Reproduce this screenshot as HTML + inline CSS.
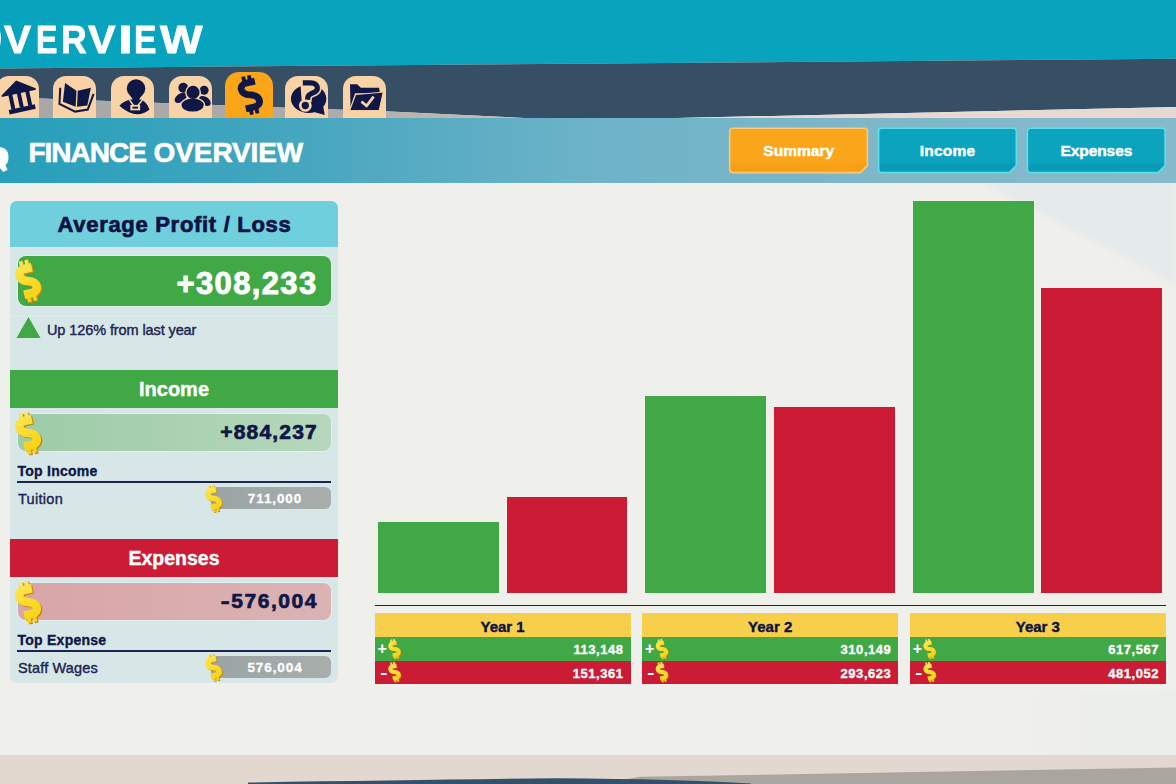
<!DOCTYPE html>
<html>
<head>
<meta charset="utf-8">
<title>Finance Overview</title>
<style>
*{box-sizing:border-box;margin:0;padding:0}
html,body{width:1176px;height:784px;overflow:hidden;background:#efefeb;}
body{position:relative;font-family:"Liberation Sans",sans-serif;color:#0f1747;}
.abs{position:absolute}
#bg{position:absolute;left:0;top:0;width:1176px;height:784px}
.t{position:absolute;white-space:nowrap;font-weight:bold;line-height:1}
/* top title */
#title{position:absolute;left:0;top:0}
.tl{position:absolute;top:21px;font-size:38px;font-weight:bold;color:#fff;line-height:1;-webkit-text-stroke:0.8px #fff;transform-origin:0 0;white-space:nowrap}
.ft{top:139.2px;font-size:28px;color:#fff;-webkit-text-stroke:0.6px #fff}
/* tabs */
.tab{position:absolute;top:76px;width:43px;height:42px;background:#f9d3a5;border-radius:13px 13px 0 0}
.tab.sel{top:72px;width:48px;height:46px;background:#fba518;border-radius:14px 14px 0 0}
/* buttons */
.btn{position:absolute;top:128.5px;height:44px;width:138px;color:#fff;font-weight:bold;font-size:15.5px;letter-spacing:0;text-align:center;line-height:43px;-webkit-text-stroke:0.45px #fff}
/* left panel */
#panel{position:absolute;left:10px;top:201px;width:328px;height:482px;background:#d7e7e7;border-radius:7px;overflow:hidden}
#phead{position:absolute;left:0;top:0;width:328px;height:46px;background:#70cfdd;text-align:center;font-weight:bold;font-size:22px;letter-spacing:0.7px;line-height:47px;color:#0c1342;padding-left:1px;-webkit-text-stroke:0.7px #0c1342}
.box{position:absolute;left:7.5px;width:313.5px;box-shadow:0 0 0 1px rgba(255,255,255,0.3);border-radius:8px;text-align:right;font-weight:bold;-webkit-text-stroke:0.5px}
.hdr{position:absolute;left:0;width:328px;height:38px;color:#fff;-webkit-text-stroke:0.4px #fff;font-weight:bold;font-size:20px;text-align:center;line-height:39px}
.lbl{position:absolute;left:7.5px;font-weight:bold;font-size:14px;letter-spacing:0.25px;line-height:1;-webkit-text-stroke:0.35px #0f1747}
.lbl2{position:absolute;left:8px;font-size:14.5px;line-height:1;color:#1c2550;-webkit-text-stroke:0.4px #1c2550}
.rule{position:absolute;left:7px;width:314px;height:1.7px;background:#1c2450}
.pill{position:absolute;left:201px;width:120px;height:22.5px;-webkit-text-stroke:0.3px #fff;border-radius:6px;background:linear-gradient(90deg,#9aa4a4,#a9aeac);color:#fff;font-weight:bold;font-size:13.5px;letter-spacing:0.9px;text-align:center;line-height:23px;padding-left:8px}
/* chart */
.bar{position:absolute}
.g{background:#40a845}
.r{background:#cb1b35}
.yr{position:absolute;top:613.3px;height:70.4px}
.yr .h{position:absolute;left:0;top:0;width:100%;height:23.6px;background:#f7cf4a;text-align:center;font-weight:bold;font-size:15px;line-height:27px;color:#0c1342;-webkit-text-stroke:0.4px #0c1342}
.yr .rg{position:absolute;left:0;top:23.6px;width:100%;height:23.8px;background:#40a845}
.yr .rr{position:absolute;left:0;top:47.4px;width:100%;height:23px;background:#cb1b35}
.yr .v{position:absolute;right:7px;top:0;color:#fff;font-weight:bold;font-size:13px;letter-spacing:0.55px;line-height:25px;-webkit-text-stroke:0.35px #fff}
.yr .s{position:absolute;left:3px;top:0;color:#fff;font-weight:bold;font-size:16px;line-height:24px}
</style>
</head>
<body>
<svg id="bg" viewBox="0 0 1176 784">
  <defs>
    <filter id="soft" x="-10%" y="-10%" width="120%" height="130%"><feGaussianBlur stdDeviation="2.5"/></filter>
    <linearGradient id="br" x1="0" x2="1" y1="0" y2="0"><stop offset="0" stop-color="#e8ede8" stop-opacity="0"/><stop offset="0.6" stop-color="#e8ede8" stop-opacity="0.5"/><stop offset="1" stop-color="#e8ede8" stop-opacity="0.6"/></linearGradient>
    <linearGradient id="gw" gradientUnits="userSpaceOnUse" x1="0" x2="535" y1="0" y2="0"><stop offset="0" stop-color="#a9a7a6"/><stop offset="0.6" stop-color="#aeaaa8"/><stop offset="1" stop-color="#cbbfb8"/></linearGradient>
    <linearGradient id="hb" x1="0" x2="1" y1="0" y2="0">
      <stop offset="0" stop-color="#269fbb"/>
      <stop offset="0.25" stop-color="#45a6bf"/>
      <stop offset="0.5" stop-color="#6db3c8"/>
      <stop offset="0.75" stop-color="#7fb7c8"/>
      <stop offset="1" stop-color="#86bacb"/>
    </linearGradient>
  </defs>
  <rect x="0" y="0" width="1176" height="784" fill="#efefeb"/>
  <!-- faint ray top right -->
  <polygon points="983,183 1176,183 1176,284" fill="#e5eaea" filter="url(#soft)"/>
  <rect x="1030" y="690" width="146" height="66" fill="url(#br)"/>
  <!-- top teal band -->
  <polygon points="0,0 1176,0 1176,58.8 0,68.4" fill="#08a4be"/>
  <!-- dark band -->
  <polygon points="0,68.4 1176,58.8 1176,107 655,118.5 535,118.5 390,111.5 0,97" fill="#374f64"/>
  <!-- grey wedge -->
  <polygon points="0,97 390,111.5 535,118.5 0,119" fill="url(#gw)"/>
  <!-- cream wedge -->
  <polygon points="655,118.5 1176,107 1176,119 655,119" fill="#e6d9d1"/>
  <!-- finance band -->
  <rect x="0" y="118" width="1176" height="65" fill="url(#hb)"/>
  <!-- buttons -->
  <path d="M732.7,128.2 L864.4000000000001,128.2 Q867.4000000000001,128.2 867.4000000000001,131.2 L867.4000000000001,165.6 L860.4000000000001,172.6 L732.7,172.6 Q729.7,172.6 729.7,169.6 L729.7,131.2 Q729.7,128.2 732.7,128.2 Z" fill="#fba61a"/><path d="M729.7,163.5 L867.4000000000001,163.5 L867.4000000000001,165.6 L860.4000000000001,172.6 L732.7,172.6 Q729.7,172.6 729.7,169.6 Z" fill="#f7a016"/><path d="M732.7,128.2 L864.4000000000001,128.2 Q867.4000000000001,128.2 867.4000000000001,131.2 L867.4000000000001,165.6 L860.4000000000001,172.6 L732.7,172.6 Q729.7,172.6 729.7,169.6 L729.7,131.2 Q729.7,128.2 732.7,128.2 Z" fill="none" stroke="#fcc878" stroke-width="1.6"/>
  <path d="M881.6,128.2 L1013.3,128.2 Q1016.3,128.2 1016.3,131.2 L1016.3,165.6 L1009.3,172.6 L881.6,172.6 Q878.6,172.6 878.6,169.6 L878.6,131.2 Q878.6,128.2 881.6,128.2 Z" fill="#0ba3be"/><path d="M878.6,163.5 L1016.3,163.5 L1016.3,165.6 L1009.3,172.6 L881.6,172.6 Q878.6,172.6 878.6,169.6 Z" fill="#0a9cb6"/><path d="M881.6,128.2 L1013.3,128.2 Q1016.3,128.2 1016.3,131.2 L1016.3,165.6 L1009.3,172.6 L881.6,172.6 Q878.6,172.6 878.6,169.6 L878.6,131.2 Q878.6,128.2 881.6,128.2 Z" fill="none" stroke="#5fdde9" stroke-width="1.6"/>
  <path d="M1030.4,128.2 L1162.1000000000001,128.2 Q1165.1000000000001,128.2 1165.1000000000001,131.2 L1165.1000000000001,165.6 L1158.1000000000001,172.6 L1030.4,172.6 Q1027.4,172.6 1027.4,169.6 L1027.4,131.2 Q1027.4,128.2 1030.4,128.2 Z" fill="#0ba3be"/><path d="M1027.4,163.5 L1165.1000000000001,163.5 L1165.1000000000001,165.6 L1158.1000000000001,172.6 L1030.4,172.6 Q1027.4,172.6 1027.4,169.6 Z" fill="#0a9cb6"/><path d="M1030.4,128.2 L1162.1000000000001,128.2 Q1165.1000000000001,128.2 1165.1000000000001,131.2 L1165.1000000000001,165.6 L1158.1000000000001,172.6 L1030.4,172.6 Q1027.4,172.6 1027.4,169.6 L1027.4,131.2 Q1027.4,128.2 1030.4,128.2 Z" fill="none" stroke="#5fdde9" stroke-width="1.6"/>
  <!-- bottom -->
  <rect x="0" y="755" width="1176" height="29" fill="#e3d8cf"/>
  <polygon points="640,776.8 1176,767.5 1176,784 600,784" fill="#aba59f"/>
  <path d="M248,784 L248,782.5 Q420,780 557,778.2 Q680,779 751,783.5 L751,784 Z" fill="#34506a"/>
</svg>

<div id="title"><span class="tl" style="left:4.1px;transform:scaleX(1.069)">V</span><span class="tl" style="left:35.71px;transform:scaleX(0.843)">E</span><span class="tl" style="left:60.83px;transform:scaleX(0.936)">R</span><span class="tl" style="left:87.9px;transform:scaleX(1.085)">V</span><span class="tl" style="left:117.5px;transform:scaleX(1.4)">I</span><span class="tl" style="left:133.83px;transform:scaleX(0.883)">E</span><span class="tl" style="left:160.0px;transform:scaleX(1.186)">W</span></div>
<div class="t ft" style="left:28.4px;letter-spacing:-1px">FINANCE</div><div class="t ft" style="left:153.6px;letter-spacing:-0.1px">OVERVIEW</div>

<!-- tabs -->
<div class="tab" style="left:-4px"></div>
<div class="tab" style="left:53px"></div>
<div class="tab" style="left:111px"></div>
<div class="tab" style="left:169px"></div>
<div class="tab sel" style="left:225px"></div>
<div class="tab" style="left:285px"></div>
<div class="tab" style="left:343px"></div>

<!-- buttons -->
<div class="btn" style="left:729.7px">Summary</div>
<div class="btn" style="left:878.6px;letter-spacing:0.2px">Income</div>
<div class="btn" style="left:1027.4px;letter-spacing:-0.1px">Expenses</div>

<!-- left panel -->
<div id="panel">
  <div id="phead">Average Profit / Loss</div>
  <div class="box" style="top:54.5px;height:50.5px;background:#40a845;color:#fff;font-size:31px;letter-spacing:1.35px;line-height:55px;padding-right:13.5px;-webkit-text-stroke:0.9px #fff">+308,233</div>
  <div class="abs" style="left:0;top:115px;width:328px;height:1px;background:rgba(255,255,255,0.22)"></div>
  <div class="lbl2" style="left:37px;top:122px;font-size:14.5px;letter-spacing:-0.1px">Up 126% from last year</div>
  <div class="hdr" style="top:169px;background:#40a845">Income</div>
  <div class="box" style="top:213px;height:37px;background:linear-gradient(90deg,#9dcba7,#b6d7bc);font-size:21px;letter-spacing:1.2px;line-height:36.5px;padding-right:13px;-webkit-text-stroke:0.7px">+884,237</div>
  <div class="lbl" style="top:263px">Top Income</div>
  <div class="rule" style="top:280px"></div>
  <div class="lbl2" style="top:291px;letter-spacing:0.3px">Tuition</div>
  <div class="pill" style="top:285.5px">711,000</div>
  <div class="hdr" style="top:338px;background:#cb1b35;font-size:19.5px">Expenses</div>
  <div class="box" style="top:382px;height:37px;background:linear-gradient(90deg,#d8a5a8,#dbb3b4);font-size:21px;letter-spacing:1.2px;line-height:36.5px;padding-right:13px;-webkit-text-stroke:0.7px"><span style="margin-right:1px;display:inline-block;transform:scaleX(1.3)">-</span><span style="letter-spacing:1.55px">576,004</span></div>
  <div class="lbl" style="top:432px">Top Expense</div>
  <div class="rule" style="top:449px"></div>
  <div class="lbl2" style="top:460px;letter-spacing:0.15px">Staff Wages</div>
  <div class="pill" style="top:454.7px">576,004</div>
</div>

<!-- chart bars -->
<div class="bar g" style="left:378px;top:522px;width:121px;height:71px"></div>
<div class="bar r" style="left:507px;top:497px;width:120px;height:96px"></div>
<div class="bar g" style="left:645px;top:396px;width:121px;height:197px"></div>
<div class="bar r" style="left:774px;top:407.4px;width:121px;height:185.6px"></div>
<div class="bar g" style="left:913px;top:201px;width:121px;height:392px"></div>
<div class="bar r" style="left:1041px;top:288px;width:121px;height:305px"></div>
<div class="abs" style="left:374.5px;top:604.7px;width:791.5px;height:1.6px;background:#1c244c"></div>

<!-- year tables -->
<div class="yr" style="left:374.6px;width:256px"><div class="h">Year 1</div><div class="rg"><span class="s">+</span><span class="v">113,148</span></div><div class="rr"><span class="s" style="left:5px;transform:scaleX(1.4);transform-origin:left">-</span><span class="v">151,361</span></div></div>
<div class="yr" style="left:642px;width:256.4px"><div class="h">Year 2</div><div class="rg"><span class="s">+</span><span class="v">310,149</span></div><div class="rr"><span class="s" style="left:5px;transform:scaleX(1.4);transform-origin:left">-</span><span class="v">293,623</span></div></div>
<div class="yr" style="left:909.7px;width:256.3px"><div class="h">Year 3</div><div class="rg"><span class="s">+</span><span class="v">617,567</span></div><div class="rr"><span class="s" style="left:5px;transform:scaleX(1.4);transform-origin:left">-</span><span class="v">481,052</span></div></div>

<!-- icon overlay -->
<svg class="abs" style="left:0;top:0" width="1176" height="784" viewBox="0 0 1176 784">
  <defs>
    <linearGradient id="gold" gradientUnits="userSpaceOnUse" x1="-20" x2="20" y1="-80" y2="80">
      <stop offset="0" stop-color="#fde65a"/>
      <stop offset="0.5" stop-color="#fbdc2a"/>
      <stop offset="1" stop-color="#f6cf14"/>
    </linearGradient>
    <g id="dol">
      <path d="M30,-50 L-4,-50 C-40,-50 -40,-10 0,0 C40,10 40,50 4,50 L-30,50" fill="none" stroke-width="27" stroke-linecap="butt"/>
      <rect x="-19" y="-78" width="15" height="24" stroke="none"/>
      <rect x="4" y="-78" width="15" height="24" stroke="none"/>
      <rect x="-19" y="54" width="15" height="24" stroke="none"/>
      <rect x="4" y="54" width="15" height="24" stroke="none"/>
    </g>
    <g id="dolg">
      <path d="M26,-48 L-4,-48 C-36,-48 -36,-9 0,0 C36,9 36,48 4,48 L-26,48" fill="none" stroke-width="33" stroke-linecap="butt"/>
      <rect x="-18" y="-80" width="14" height="24" stroke="none"/>
      <rect x="4" y="-80" width="14" height="24" stroke="none"/>
      <rect x="-18" y="56" width="14" height="24" stroke="none"/>
      <rect x="4" y="56" width="14" height="24" stroke="none"/>
    </g>
    <g id="gdol">
      <use href="#dolg" transform="translate(4,5)" fill="#c8870f" stroke="#c8870f"/>
      <use href="#dolg" fill="url(#gold)" stroke="url(#gold)"/>
    </g>
  </defs>

  <!-- tab icons A -->
  <g transform="translate(0,66) scale(0.13605)" fill="#0f1747">
    <!-- bank -->
    <g transform="translate(143,222) rotate(-12)">
      <polygon points="-128,-32 0,-118 128,-32 128,-22 -128,-22"/>
      <rect x="-78" y="-28" width="29" height="112"/>
      <rect x="-14.5" y="-28" width="29" height="112"/>
      <rect x="49" y="-28" width="29" height="112"/>
      <rect x="-98" y="82" width="196" height="34"/>
    </g>
    <!-- book -->
    <path d="M478,125 L562,182 L556,300 L462,262 Z"/>
    <path d="M572,182 L668,160 L642,290 L566,300 Z"/>
    <path d="M443,160 L437,278 L552,335 L645,320 L688,205" fill="none" stroke="#0f1747" stroke-width="15" stroke-linejoin="miter"/>
    <!-- person -->
    <circle cx="1000" cy="165" r="68"/>
    <path d="M950,205 L1050,205 L998,282 Z"/>
    <path d="M877,292 Q918,252 962,246 L1038,246 Q1080,268 1099,320 Q1000,402 877,292 Z"/>
    <path d="M952,250 L985,296 M1046,250 L1010,296" stroke="#f9d3a5" stroke-width="11" fill="none"/>
    <rect x="958" y="286" width="72" height="40" fill="#f9d3a5"/>
    <rect x="974" y="299" width="40" height="14"/>
  </g>
  <!-- tab icons B -->
  <g transform="translate(160,66) scale(0.13605)" fill="#0f1747">
    <circle cx="171" cy="160" r="36"/>
    <ellipse cx="152" cy="234" rx="50" ry="31" transform="rotate(-35 152 234)"/>
    <circle cx="324" cy="178" r="33"/>
    <ellipse cx="330" cy="257" rx="48" ry="30" transform="rotate(35 330 257)"/>
    <circle cx="243" cy="194" r="58" fill="#f9d3a5"/>
    <ellipse cx="240" cy="287" rx="92" ry="58" fill="#f9d3a5"/>
    <ellipse cx="240" cy="287" rx="82" ry="48"/>
    <circle cx="243" cy="194" r="48"/>
    <!-- selected dollar -->
    <g transform="translate(664,213) rotate(-13) scale(1.84)">
      <use href="#dol" fill="#0f1747" stroke="#0f1747"/>
    </g>
  </g>
  <!-- tab icons C -->
  <g transform="translate(270,66) scale(0.13605)" fill="#0f1747">
    <ellipse cx="284" cy="241" rx="130" ry="104"/>
    <polygon points="345,310 392,300 402,360 322,338"/>
    <path d="M229,124 L298,124 C338,124 352,148 347,172 C341,200 288,196 279,226 L274,262" fill="none" stroke="#f9d3a5" stroke-width="62" stroke-linecap="butt"/>
    <circle cx="259.5" cy="290" r="47" fill="#f9d3a5"/>
    <polygon points="222,105 243,105 262,250 232,250" fill="#f9d3a5"/>
    <polygon points="241,140 305,140 330,165 300,188 270,205 258,232 245,232" fill="#f9d3a5"/>
    <path d="M241,124 L298,124 C338,124 352,148 347,172 C341,200 288,196 279,226 L276,248" fill="none" stroke="#0f1747" stroke-width="38" stroke-linecap="butt"/>
    <circle cx="259.5" cy="290" r="27"/>
    <!-- folder -->
    <path d="M588,135 L640,135 L668,160 L802,160 L808,200 L625,200 L592,300 Z"/>
    <path d="M630,210 L832,192 L802,327 L586,327 Z" stroke="#f9d3a5" stroke-width="7"/>
    <path d="M672,262 L710,292 L762,225" fill="none" stroke="#f9d3a5" stroke-width="20"/>
  </g>

  <path d="M0,31 Q1.8,38 0,46 Z" fill="#fff"/>
  <!-- magnifier remnant -->
  <path d="M0,147 Q8.5,148 8.5,157 Q8.5,163 5.5,165 L7.5,170 L3,172 L0,168 Z" fill="#fff"/>

  <!-- gold dollars -->
  <g transform="translate(28,281) rotate(-13) scale(0.262)"><use href="#gdol"/></g>
  <g transform="translate(28,433) rotate(-13) scale(0.262)"><use href="#gdol"/></g>
  <g transform="translate(28,602) rotate(-13) scale(0.262)"><use href="#gdol"/></g>
  <g transform="translate(213.5,498.5) rotate(-13) scale(0.17)"><use href="#gdol"/></g>
  <g transform="translate(213.5,667.5) rotate(-13) scale(0.17)"><use href="#gdol"/></g>
  <!-- triangle -->
  <polygon points="28.5,317 40.5,338 16.5,338" fill="#40a845"/>
  <!-- year dollars -->
  <g id="yd">
    <g transform="translate(394.5,649) rotate(-13) scale(0.125)"><use href="#gdol"/></g>
    <g transform="translate(394.5,672) rotate(-13) scale(0.125)"><use href="#gdol"/></g>
  </g>
  <use href="#yd" x="267.4"/>
  <use href="#yd" x="535.1"/>
</svg>

</body>
</html>
